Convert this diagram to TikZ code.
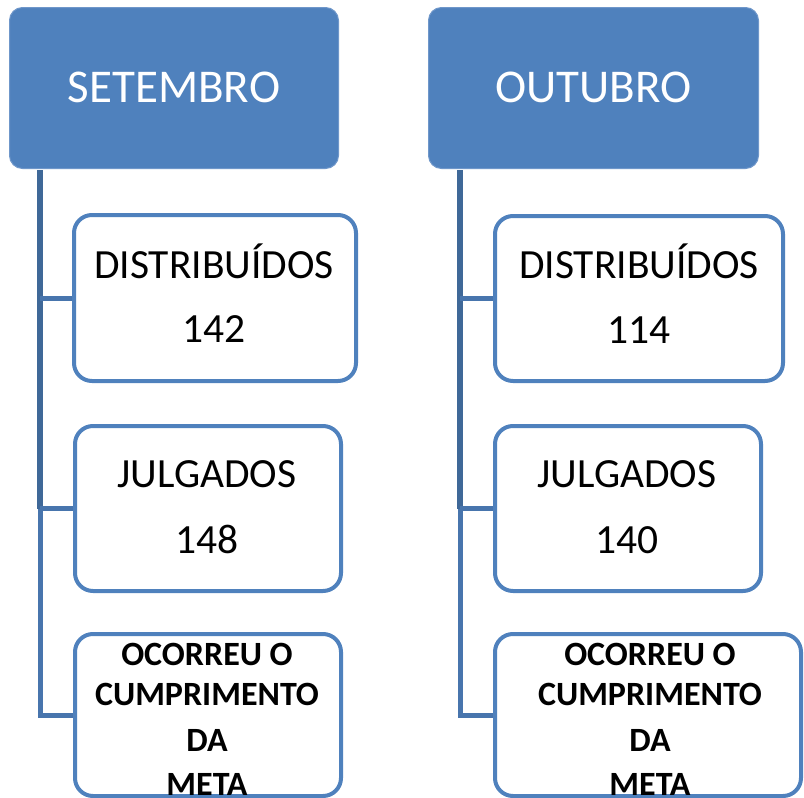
\documentclass[tikz,border=0pt]{standalone}
\usepackage{fontspec}
\setmainfont{Carlito}
\usetikzlibrary{backgrounds}
\definecolor{hdrfill}{HTML}{4F81BD}
\definecolor{hdrline}{HTML}{6F97CA}
\definecolor{boxline}{HTML}{4F81BD}
\definecolor{vline}{HTML}{3F6898}
\definecolor{hline}{HTML}{4875AD}
\tikzset{
  header/.style={rectangle, rounded corners=13pt, fill=hdrfill, draw=hdrline, line width=1pt, inner sep=0pt},
  itembox/.style={rectangle, rounded corners=18pt, fill=white, draw=boxline, line width=4pt, inner sep=0pt},
  hdrtext/.style={anchor=base, inner sep=0pt, text=white, font=\fontsize{47}{47}\selectfont},
  itemtext/.style={anchor=base, inner sep=0pt, font=\fontsize{41.5}{41.5}\selectfont},
  boldtext/.style={anchor=base, inner sep=0pt, font=\fontsize{34}{34}\selectfont\bfseries},
  trunk/.style={draw=vline, line width=6pt},
  branch/.style={draw=hline, line width=5pt}
}
\begin{document}
\begin{tikzpicture}[x=1pt, y=-1pt]
\useasboundingbox (0,0) rectangle (804,798);
% trunk coordinates
\coordinate (lt) at (40,170);
\coordinate (rt) at (460,170);
% headers
\node[header, minimum width=329pt, minimum height=161pt] (hs) at (174,88) {};
\node[header, minimum width=330pt, minimum height=161pt] (ho) at (593.5,88) {};
% boxes
\node[itembox, minimum width=282pt, minimum height=166pt] (l1) at (215,298) {};
\node[itembox, minimum width=266pt, minimum height=165pt] (l2) at (208,508.5) {};
\node[itembox, minimum width=266pt, minimum height=162pt] (l3) at (208,715) {};
\node[itembox, minimum width=288pt, minimum height=165pt] (r1) at (639,298.5) {};
\node[itembox, minimum width=266pt, minimum height=165pt] (r2) at (628,508.5) {};
\node[itembox, minimum width=306pt, minimum height=162pt] (r3) at (648,715) {};
% connectors behind boxes
\begin{scope}[on background layer]
\draw[trunk] (lt) -- (lt |- l2.west);
\draw[branch] (l1.west -| lt) -- (l1.west);
\draw[branch] (l2.west -| lt) -- (l2.west);
\draw[branch, line join=miter] (lt |- l2.west) -- (lt |- l3.west) -- (l3.west);
\draw[trunk] (rt) -- (rt |- r2.west);
\draw[branch] (r1.west -| rt) -- (r1.west);
\draw[branch] (r2.west -| rt) -- (r2.west);
\draw[branch, line join=miter] (rt |- r2.west) -- (rt |- r3.west) -- (r3.west);
\end{scope}
% texts
\node[hdrtext] (ths) at (174,102) {SETEMBRO};
\node[hdrtext] (tho) at (593.5,102) {OUTUBRO};
\node[itemtext] (tl1a) at (214,278) {DISTRIBUÍDOS};
\node[itemtext] (tl1b) at (214,342) {142};
\node[itemtext] (tl2a) at (207,487) {JULGADOS};
\node[itemtext] (tl2b) at (207,553) {148};
\node[itemtext] (tr1a) at (639,278) {DISTRIBUÍDOS};
\node[itemtext] (tr1b) at (639,343) {114};
\node[itemtext] (tr2a) at (627,487) {JULGADOS};
\node[itemtext] (tr2b) at (627,553) {140};
\node[boldtext] (tl3a) at (207,665) {OCORREU O};
\node[boldtext] (tl3b) at (207,705) {CUMPRIMENTO};
\node[boldtext] (tl3c) at (207,751) {DA};
\node[boldtext] (tl3d) at (207,795) {META};
\node[boldtext] (tr3a) at (650,665) {OCORREU O};
\node[boldtext] (tr3b) at (650,705) {CUMPRIMENTO};
\node[boldtext] (tr3c) at (650,751) {DA};
\node[boldtext] (tr3d) at (650,795) {META};
\end{tikzpicture}
\end{document}
